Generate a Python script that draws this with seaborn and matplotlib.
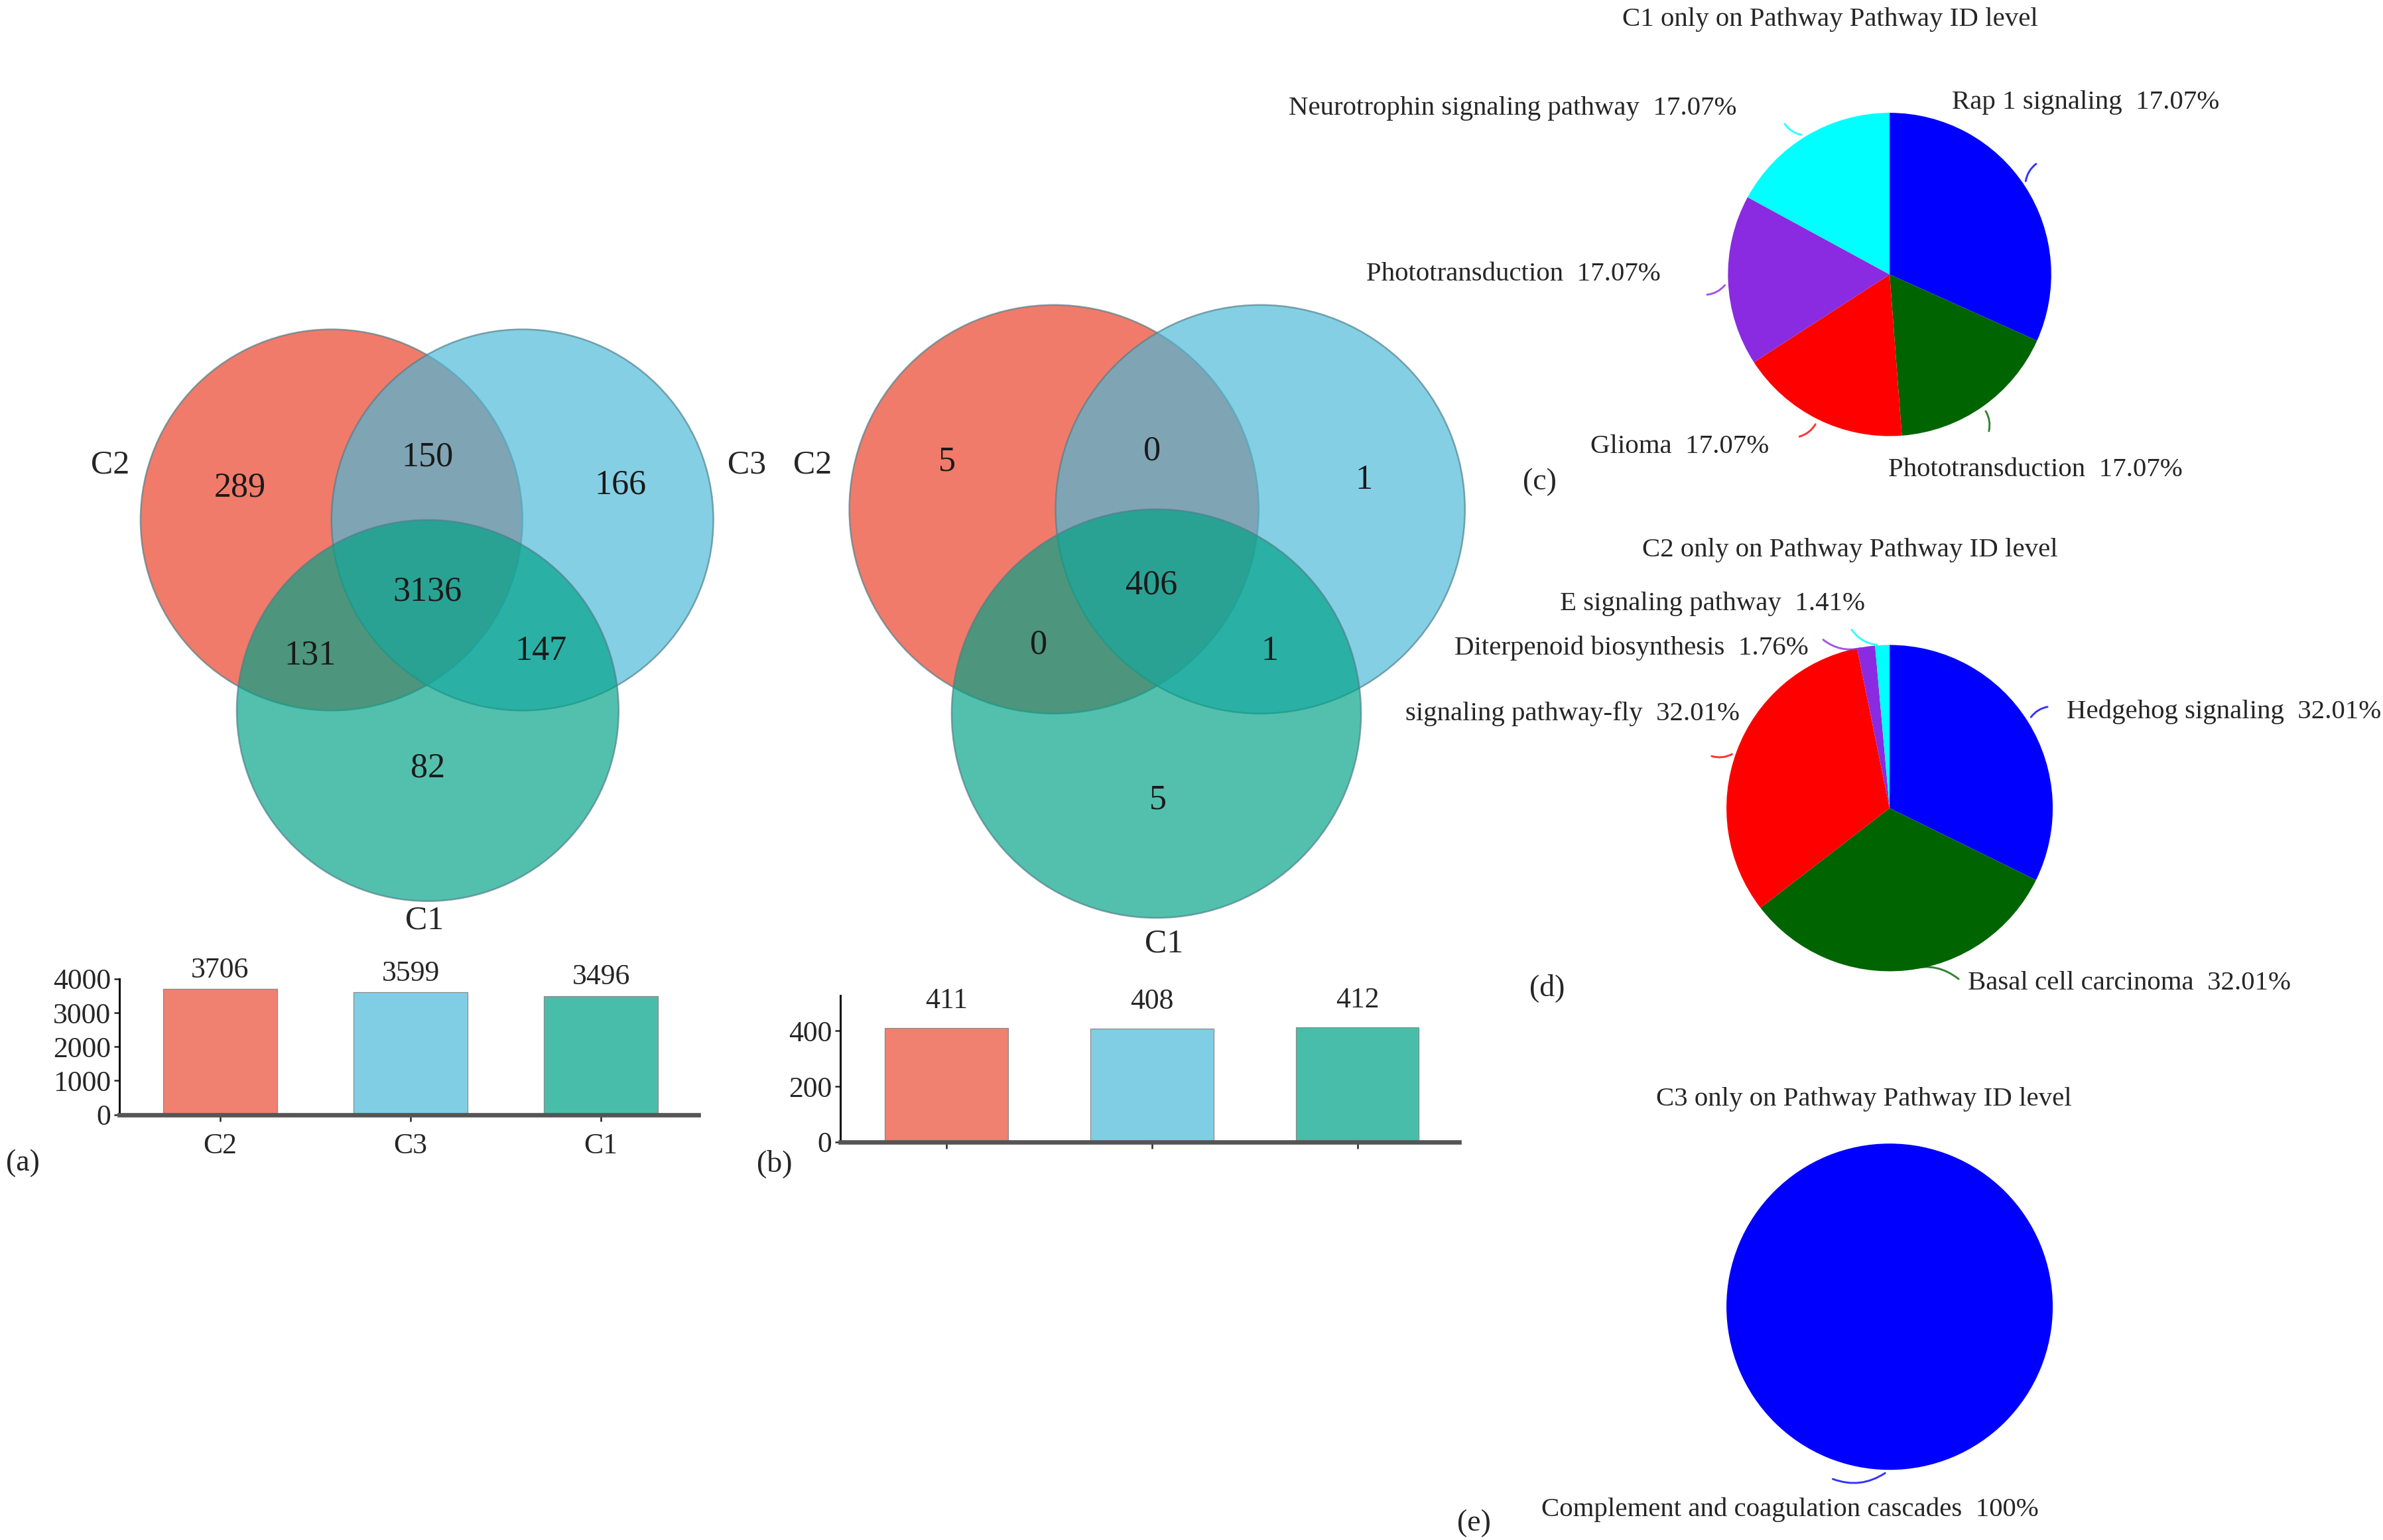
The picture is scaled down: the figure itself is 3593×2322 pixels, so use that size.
#!/usr/bin/env python3
"""
Venn overlap of C1/C2/C3 with set-size bars and pathway pie charts.
"""

import numpy as np
import matplotlib
matplotlib.use('Agg')
import matplotlib.pyplot as plt
from matplotlib.patches import Circle
import seaborn as sns

# ---- data -------------------------------------------------------------
set_names = ['C2', 'C3', 'C1']
set_colors = ['#F08070', '#80CEE4', '#48BEAA']
venn_base = ['#E93C23', '#4AB9D8', '#00A286']   # drawn with alpha to get overlaps

# region counts: C2 only, C2&C3, C3 only, all, C2&C1, C3&C1, C1 only
venn_a_counts = [289, 150, 166, 3136, 131, 147, 82]
venn_b_counts = [5, 0, 1, 406, 0, 1, 5]

bar_a_values = [3706, 3599, 3496]
bar_b_values = [411, 408, 412]

pie_colors = ['#0000FF', '#006400', '#FF0000', '#8A2BE2', '#00FFFF']

pie_c_values = [31.72, 17.07, 17.07, 17.07, 17.07]
pie_c_labels = ['Rap 1 signaling  17.07%', 'Phototransduction  17.07%',
                'Glioma  17.07%', 'Phototransduction  17.07%',
                'Neurotrophin signaling pathway  17.07%']

pie_d_values = [32.01, 32.01, 32.01, 1.76, 1.41]
pie_d_labels = ['Hedgehog signaling  32.01%', 'Basal cell carcinoma  32.01%',
                'signaling pathway-fly  32.01%', 'Diterpenoid biosynthesis  1.76%',
                'E signaling pathway  1.41%']

pie_e_values = [100]
pie_e_labels = ['Complement and coagulation cascades  100%']

pie_titles = ['C1 only on Pathway Pathway ID level',
              'C2 only on Pathway Pathway ID level',
              'C3 only on Pathway Pathway ID level']

# ---- layout helpers (reference is laid out on a 1560 x 1010 grid) -----
W, H = 1560.0, 1010.0


def rect(x0, y_top, x1, y_bot):
    return [x0 / W, 1 - y_bot / H, (x1 - x0) / W, (y_bot - y_top) / H]


sns.set_theme(style='white')
plt.rcParams['font.family'] = ['Liberation Serif', 'DejaVu Serif']
plt.rcParams['mathtext.fontset'] = 'stix'

fig = plt.figure(figsize=(3593 / 300, 2322 / 300), dpi=300)
canvas = fig.add_axes([0, 0, 1, 1])
canvas.set_xlim(0, W)
canvas.set_ylim(H, 0)
canvas.axis('off')


def draw_venn(centers, r, counts, count_pos, labels):
    for (cx, cy), base in zip(centers, venn_base):
        canvas.add_patch(Circle((cx, cy), r, facecolor=base, alpha=0.68,
                                edgecolor='#4F7F8A', linewidth=0.6))
    for n, (x, y) in zip(counts, count_pos):
        canvas.text(x, y, str(n), ha='center', va='center', fontsize=12.5,
                    color='#1a1a1a')
    for txt, (x, y) in labels:
        canvas.text(x, y, txt, ha='center', va='center', fontsize=12)


draw_venn([(217, 341), (342, 341), (280, 466)], 125, venn_a_counts,
          [(157, 320), (280, 300), (406, 318), (280, 388), (203, 430),
           (354, 427), (280, 504)],
          [('C2', (72, 305)), ('C3', (489, 305)), ('C1', (278, 604))])

draw_venn([(690, 334), (825, 334), (757, 468)], 134, venn_b_counts,
          [(620, 303), (754, 296), (893, 315), (754, 384), (680, 423),
           (831, 427), (758, 525)],
          [('C2', (532, 305)), ('C1', (762, 619))])


def draw_bars(pos, values, ylim, yticks, xlim, show_names, pad):
    ax = fig.add_axes(pos)
    sns.barplot(x=set_names, y=values, hue=set_names, palette=set_colors,
                legend=False, width=0.6, saturation=1, ax=ax,
                edgecolor='#8a8a8a', linewidth=0.3)
    ax.set_ylim(*ylim)
    ax.set_xlim(*xlim)
    ax.set_yticks(yticks)
    ax.set_ylabel('')
    ax.set_xlabel('')
    for c in ax.containers:
        ax.bar_label(c, padding=pad, fontsize=10.5)
    sns.despine(ax=ax)
    ax.spines['left'].set_color('black')
    ax.spines['left'].set_linewidth(0.7)
    ax.spines['bottom'].set_color('#555555')
    ax.spines['bottom'].set_linewidth(1.6)
    ax.tick_params(axis='y', left=True, length=2, width=0.6, pad=1,
                   labelsize=10.5)
    ax.tick_params(axis='x', bottom=True, length=2.5, width=0.6, pad=4,
                   labelsize=10.5)
    if not show_names:
        ax.set_xticklabels([])
    ax.set_facecolor('none')
    return ax


draw_bars(rect(78, 642, 457, 731), bar_a_values, (0, 4000),
          [0, 1000, 2000, 3000, 4000], (-0.53, 2.51), True, 2)
draw_bars(rect(550, 653, 955, 749), bar_b_values, (0, 526),
          [0, 200, 400], (-0.517, 2.494), False, 5)


def draw_pie(cx, cy, R, values, labels, text_pos, links, title, title_pos):
    k = 1.3
    ax = fig.add_axes(rect(cx - R * k, cy - R * k, cx + R * k, cy + R * k))
    wedges, _ = ax.pie(values, colors=pie_colors[:len(values)], startangle=90,
                       counterclock=False, radius=1,
                       wedgeprops=dict(linewidth=0))
    ax.set_xlim(-k, k)
    ax.set_ylim(-k, k)
    ax.axis('off')
    for w, (dang, rend) in zip(wedges, links):
        mid = np.deg2rad((w.theta1 + w.theta2) / 2)
        end = mid + np.deg2rad(dang)
        ax.annotate('', xy=(np.cos(mid) * 1.0, np.sin(mid) * 1.0),
                    xytext=(np.cos(end) * rend, np.sin(end) * rend),
                    arrowprops=dict(arrowstyle='-', color=w.get_facecolor(),
                                    lw=0.7, alpha=0.8,
                                    connectionstyle='arc3,rad=0.3'))
    for txt, (x, y, ha) in zip(labels, text_pos):
        canvas.text(x, y, txt, ha=ha, va='center', fontsize=9.8)
    canvas.text(title_pos[0], title_pos[1], title, ha='center', va='center',
                fontsize=9.8)


draw_pie(1237, 180, 106, pie_c_values, pie_c_labels,
         [(1278, 67, 'left'), (1236, 308, 'left'), (1158, 293, 'right'),
          (1087, 180, 'right'), (1137, 71, 'right')],
         [(4, 1.17), (-4, 1.17), (-4, 1.17), (4, 1.17), (4, 1.17)],
         pie_titles[0], (1198, 13))

draw_pie(1237, 530, 107, pie_d_values, pie_d_labels,
         [(1353, 467, 'left'), (1288, 645, 'left'), (1139, 468, 'right'),
          (1184, 425, 'right'), (1221, 396, 'right')],
         [(0, 1.18), (17, 1.16), (4, 1.17), (14, 1.14), (10, 1.15)],
         pie_titles[1], (1211, 361))

draw_pie(1237, 857, 107, pie_e_values, pie_e_labels,
         [(1009, 990, 'left')],
         [(-20, 1.11)],
         pie_titles[2], (1220, 721))

# panel letters
for txt, (x, y) in [('(a)', (15, 763)), ('(b)', (507, 763)), ('(c)', (1008, 316)),
                    ('(d)', (1013, 648)), ('(e)', (965, 999))]:
    canvas.text(x, y, txt, ha='center', va='center', fontsize=11)

fig.savefig('out.png', dpi=300)
plt.close(fig)
